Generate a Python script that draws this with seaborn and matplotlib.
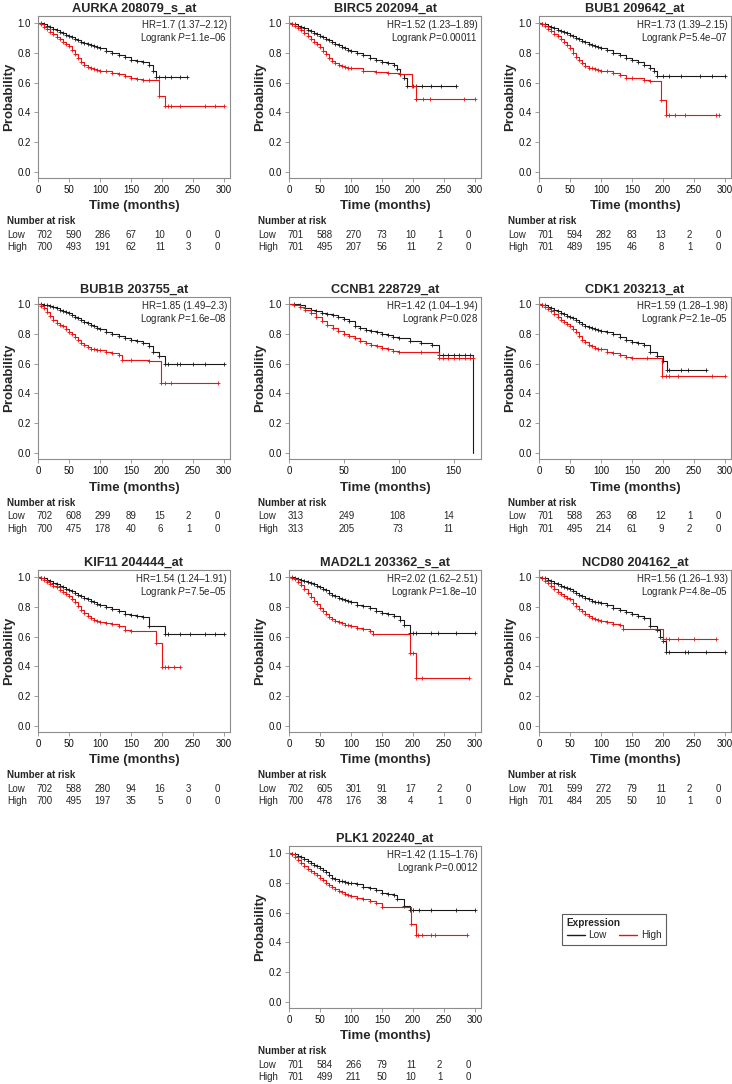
import numpy as np
import matplotlib
matplotlib.use("Agg")
import matplotlib.pyplot as plt
import seaborn as sns
from matplotlib.lines import Line2D

# -----------------------------
# Data
# -----------------------------
titles = ["AURKA 208079_s_at", "BIRC5 202094_at", "BUB1 209642_at",
          "BUB1B 203755_at", "CCNB1 228729_at", "CDK1 203213_at",
          "KIF11 204444_at", "MAD2L1 203362_s_at", "NCD80 204162_at",
          "PLK1 202240_at"]
hr_labels = ["HR=1.7 (1.37–2.12)", "HR=1.52 (1.23–1.89)", "HR=1.73 (1.39–2.15)",
             "HR=1.85 (1.49–2.3)", "HR=1.42 (1.04–1.94)", "HR=1.59 (1.28–1.98)",
             "HR=1.54 (1.24–1.91)", "HR=2.02 (1.62–2.51)", "HR=1.56 (1.26–1.93)",
             "HR=1.42 (1.15–1.76)"]
p_labels = ["1.1e–06", "0.00011", "5.4e–07", "1.6e–08", "0.028", "2.1e–05",
            "7.5e–05", "1.8e–10", "4.8e–05", "0.0012"]

risk_times_long = [0, 50, 100, 150, 200, 250, 300]
risk_times_short = [0, 50, 100, 150]

# months where the early part of every curve was read
early_t = [0, 5, 10, 15, 20, 25, 30, 35, 40, 45, 50, 55, 60, 65, 70, 75, 80, 85, 90, 95, 100]

# AURKA
aurka_low_t = early_t + [110, 120, 130, 140, 150, 160, 170, 180, 185, 190, 240]
aurka_low_s = [1, .997, .99, .98, .97, .96, .95, .94, .93, .922, .915, .905, .895, .885, .875, .867, .86, .852, .845, .838, .83,
               .815, .80, .785, .77, .755, .745, .74, .72, .68, .64, .64]
aurka_low_cens = [195, 205, 215, 230, 240]
aurka_high_t = early_t + [110, 120, 130, 140, 150, 160, 170, 180, 195, 205, 300]
aurka_high_s = [1, .99, .975, .96, .94, .925, .905, .89, .875, .86, .845, .82, .79, .765, .74, .72, .705, .695, .69, .685, .68,
                .675, .665, .655, .645, .63, .625, .62, .615, .51, .445, .445]
aurka_high_cens = [210, 215, 230, 270, 285, 300]
aurka_risk_low = [702, 590, 286, 67, 10, 0, 0]
aurka_risk_high = [700, 493, 191, 62, 11, 3, 0]

# BIRC5
birc5_low_t = early_t + [110, 120, 130, 140, 150, 160, 170, 175, 180, 185, 190, 270]
birc5_low_s = [1, .996, .99, .983, .975, .965, .955, .945, .935, .925, .915, .905, .895, .883, .87, .86, .85, .84, .83, .822, .815,
               .80, .785, .765, .75, .74, .73, .72, .69, .66, .63, .58, .58]
birc5_low_cens = [200, 205, 215, 230, 245, 270]
birc5_high_t = early_t + [120, 140, 160, 180, 198, 205, 300]
birc5_high_s = [1, .99, .98, .965, .95, .93, .91, .893, .875, .86, .84, .815, .79, .765, .745, .73, .72, .71, .705, .70, .695,
                .68, .67, .665, .66, .58, .49, .49]
birc5_high_cens = [205, 216, 227, 283, 300]
birc5_risk_low = [701, 588, 270, 73, 10, 1, 0]
birc5_risk_high = [701, 495, 207, 56, 11, 2, 0]

# BUB1
bub1_low_t = early_t + [110, 120, 130, 140, 150, 160, 170, 180, 185, 190, 300]
bub1_low_s = [1, .996, .99, .983, .975, .965, .955, .948, .94, .93, .92, .91, .9, .89, .88, .87, .86, .852, .845, .838, .83,
              .82, .80, .785, .765, .75, .735, .72, .70, .68, .645, .645]
bub1_low_cens = [200, 210, 230, 260, 280, 300]
bub1_high_t = early_t + [110, 120, 130, 140, 150, 170, 180, 197, 205, 290]
bub1_high_s = [1, .99, .98, .962, .945, .928, .91, .89, .87, .85, .83, .80, .775, .75, .73, .713, .70, .695, .69, .685, .68,
               .675, .665, .65, .63, .63, .62, .61, .485, .385, .385]
bub1_high_cens = [210, 220, 235, 285, 290]
bub1_risk_low = [701, 594, 282, 83, 13, 2, 0]
bub1_risk_high = [701, 489, 195, 46, 8, 1, 0]

# BUB1B
bub1b_low_t = early_t + [110, 120, 130, 140, 150, 160, 170, 180, 185, 195, 205, 300]
bub1b_low_s = [1, .998, .995, .99, .985, .978, .97, .963, .955, .948, .94, .928, .915, .903, .89, .88, .87, .86, .85, .84, .83,
               .815, .8, .785, .77, .76, .75, .74, .72, .68, .65, .595, .595]
bub1b_low_cens = [210, 225, 230, 250, 270, 300]
bub1b_high_t = early_t + [110, 120, 130, 135, 150, 180, 198, 290]
bub1b_high_s = [1, .985, .97, .945, .92, .895, .875, .862, .85, .832, .815, .798, .78, .76, .74, .725, .71, .70, .695, .692, .69,
                .68, .67, .655, .625, .625, .62, .47, .47]
bub1b_high_cens = [205, 215, 290]
bub1b_risk_low = [702, 608, 299, 89, 15, 2, 0]
bub1b_risk_high = [700, 475, 178, 40, 6, 1, 0]

# CCNB1
ccnb1_low_t = early_t + [110, 120, 130, 137, 168]
ccnb1_low_s = [1, .997, .99, .975, .96, .95, .94, .932, .925, .912, .9, .885, .855, .84, .825, .818, .81, .80, .79, .78, .77,
               .755, .74, .725, .66, 0.0]
ccnb1_low_cens = [140, 145, 150, 155, 160, 165]
ccnb1_high_t = early_t + [120, 137, 168]
ccnb1_high_s = [1, .992, .98, .96, .94, .912, .885, .862, .84, .82, .80, .785, .77, .755, .74, .728, .715, .705, .695, .687, .68,
                .675, .635, .635]
ccnb1_high_cens = [140, 145, 150, 155, 160, 165, 168]
ccnb1_risk_low = [313, 249, 108, 14]
ccnb1_risk_high = [313, 205, 73, 11]

# CDK1
cdk1_low_t = early_t + [110, 120, 130, 140, 150, 160, 170, 180, 190, 200, 207, 270]
cdk1_low_s = [1, .996, .99, .98, .97, .96, .95, .94, .93, .922, .915, .905, .895, .88, .865, .855, .845, .837, .83, .825, .82,
              .81, .8, .78, .76, .745, .735, .725, .68, .65, .62, .555, .555]
cdk1_low_cens = [210, 230, 240, 270]
cdk1_high_t = early_t + [110, 120, 130, 140, 150, 175, 198, 300]
cdk1_high_s = [1, .99, .98, .965, .95, .93, .91, .895, .88, .865, .85, .83, .81, .785, .76, .742, .725, .715, .705, .70, .695,
               .68, .67, .655, .645, .64, .635, .515, .515]
cdk1_high_cens = [205, 210, 225, 280, 300]
cdk1_risk_low = [701, 588, 263, 68, 12, 1, 0]
cdk1_risk_high = [701, 495, 214, 61, 9, 2, 0]

# KIF11
kif11_low_t = early_t + [110, 120, 130, 140, 150, 160, 170, 180, 205, 300]
kif11_low_s = [1, .996, .99, .98, .97, .96, .95, .94, .93, .922, .915, .905, .895, .882, .87, .86, .85, .84, .83, .822, .815,
               .8, .785, .77, .755, .745, .735, .73, .67, .615, .615]
kif11_low_cens = [210, 230, 245, 270, 285, 300]
kif11_high_t = early_t + [110, 120, 130, 140, 150, 190, 200, 230]
kif11_high_s = [1, .99, .98, .968, .955, .942, .93, .915, .9, .885, .87, .85, .83, .805, .78, .757, .735, .722, .71, .702, .695,
                .69, .685, .67, .645, .64, .56, .395, .395]
kif11_high_cens = [205, 210, 220, 230]
kif11_risk_low = [702, 588, 280, 94, 16, 3, 0]
kif11_risk_high = [700, 495, 197, 35, 5, 0, 0]

# MAD2L1
mad2l1_low_t = early_t + [110, 120, 130, 140, 150, 160, 170, 180, 185, 195, 300]
mad2l1_low_s = [1, .998, .995, .988, .98, .972, .965, .958, .95, .942, .935, .922, .91, .895, .88, .87, .86, .852, .845, .838, .83,
                .815, .805, .79, .775, .76, .75, .74, .71, .68, .625, .625]
mad2l1_low_cens = [200, 205, 230, 240, 270, 300]
mad2l1_high_t = early_t + [110, 120, 130, 135, 195, 205, 290]
mad2l1_high_s = [1, .995, .985, .965, .945, .918, .89, .865, .84, .818, .795, .772, .75, .732, .715, .705, .695, .688, .68, .675, .67,
                 .66, .65, .64, .615, .49, .325, .325]
mad2l1_high_cens = [200, 215, 290]
mad2l1_risk_low = [702, 605, 301, 91, 17, 2, 0]
mad2l1_risk_high = [700, 478, 176, 38, 4, 1, 0]

# NCD80
ncd80_low_t = early_t + [110, 120, 130, 140, 150, 160, 170, 180, 190, 195, 200, 205, 300]
ncd80_low_s = [1, .996, .99, .98, .97, .96, .95, .942, .935, .928, .92, .908, .895, .882, .87, .86, .85, .842, .835, .83, .825,
               .81, .795, .78, .765, .755, .74, .725, .67, .645, .6, .57, .5, .5]
ncd80_low_cens = [210, 235, 240, 270, 300]
ncd80_high_t = early_t + [110, 120, 130, 135, 200, 285]
ncd80_high_s = [1, .99, .975, .958, .94, .92, .9, .888, .875, .862, .85, .828, .805, .788, .77, .752, .735, .725, .715, .71, .705,
                .695, .685, .675, .65, .585, .585]
ncd80_high_cens = [205, 210, 225, 250, 285]
ncd80_risk_low = [701, 599, 272, 79, 11, 2, 0]
ncd80_risk_high = [701, 484, 205, 50, 10, 1, 0]

# PLK1
plk1_low_t = early_t + [110, 120, 130, 140, 150, 160, 170, 175, 185, 195, 300]
plk1_low_s = [1, .996, .99, .98, .97, .958, .945, .932, .92, .91, .9, .885, .87, .852, .835, .825, .815, .81, .805, .802, .8,
              .79, .775, .765, .75, .73, .725, .72, .69, .645, .615, .615]
plk1_low_cens = [200, 210, 230, 270, 300]
plk1_high_t = early_t + [110, 120, 130, 140, 150, 197, 205, 287]
plk1_high_s = [1, .99, .975, .955, .935, .915, .895, .88, .865, .85, .835, .818, .8, .785, .77, .757, .745, .735, .725, .717, .71,
               .7, .69, .68, .665, .64, .525, .45, .45]
plk1_high_cens = [208, 215, 230, 235, 287]
plk1_risk_low = [701, 584, 266, 79, 11, 2, 0]
plk1_risk_high = [701, 499, 211, 50, 10, 1, 0]

panels = [
    (aurka_low_t, aurka_low_s, aurka_low_cens, aurka_high_t, aurka_high_s, aurka_high_cens, aurka_risk_low, aurka_risk_high),
    (birc5_low_t, birc5_low_s, birc5_low_cens, birc5_high_t, birc5_high_s, birc5_high_cens, birc5_risk_low, birc5_risk_high),
    (bub1_low_t, bub1_low_s, bub1_low_cens, bub1_high_t, bub1_high_s, bub1_high_cens, bub1_risk_low, bub1_risk_high),
    (bub1b_low_t, bub1b_low_s, bub1b_low_cens, bub1b_high_t, bub1b_high_s, bub1b_high_cens, bub1b_risk_low, bub1b_risk_high),
    (ccnb1_low_t, ccnb1_low_s, ccnb1_low_cens, ccnb1_high_t, ccnb1_high_s, ccnb1_high_cens, ccnb1_risk_low, ccnb1_risk_high),
    (cdk1_low_t, cdk1_low_s, cdk1_low_cens, cdk1_high_t, cdk1_high_s, cdk1_high_cens, cdk1_risk_low, cdk1_risk_high),
    (kif11_low_t, kif11_low_s, kif11_low_cens, kif11_high_t, kif11_high_s, kif11_high_cens, kif11_risk_low, kif11_risk_high),
    (mad2l1_low_t, mad2l1_low_s, mad2l1_low_cens, mad2l1_high_t, mad2l1_high_s, mad2l1_high_cens, mad2l1_risk_low, mad2l1_risk_high),
    (ncd80_low_t, ncd80_low_s, ncd80_low_cens, ncd80_high_t, ncd80_high_s, ncd80_high_cens, ncd80_risk_low, ncd80_risk_high),
    (plk1_low_t, plk1_low_s, plk1_low_cens, plk1_high_t, plk1_high_s, plk1_high_cens, plk1_risk_low, plk1_risk_high),
]

# -----------------------------
# Style
# -----------------------------
sns.set_style("white")
plt.rcParams['font.family'] = ['Liberation Sans', 'DejaVu Sans']
plt.rcParams['mathtext.fontset'] = 'custom'
plt.rcParams['mathtext.rm'] = 'Liberation Sans'
plt.rcParams['mathtext.it'] = 'Liberation Sans:italic'

LOW_COLOR = "#1a1a1a"
HIGH_COLOR = "#ee1111"
SPINE = "#8c8c8c"

W, H = 732, 1084
fig = plt.figure(figsize=(W / 100, H / 100), dpi=100)

col_left = [38, 289, 539]
row_top = [16, 297, 570, 846]
box_w, box_h = 192, 162
slots = [(0, 0), (0, 1), (0, 2), (1, 0), (1, 1), (1, 2), (2, 0), (2, 1), (2, 2), (3, 1)]


def draw_curve(ax, t, s, cens, color):
    sns.lineplot(x=t, y=s, ax=ax, color=color, lw=0.8, drawstyle="steps-post",
                 estimator=None, sort=False)
    t_arr = np.asarray(t, dtype=float)
    s_arr = np.asarray(s, dtype=float)
    mark_t = list(t_arr[1:-1]) + list(cens)
    mark_s = [s_arr[np.searchsorted(t_arr, m, side="right") - 1] for m in mark_t]
    ax.plot(mark_t, mark_s, ls="none", marker="+", ms=3.0, mew=0.6, color=color)


for i, (lt, ls_, lc, ht, hs, hc, rl, rh) in enumerate(panels):
    r, c = slots[i]
    x0, y0 = col_left[c], row_top[r]
    ax = fig.add_axes([x0 / W, 1 - (y0 + box_h) / H, box_w / W, box_h / H])

    short = (i == 4)
    xmax = 175 if short else 310
    rtimes = risk_times_short if short else risk_times_long

    draw_curve(ax, lt, ls_, lc, LOW_COLOR)
    draw_curve(ax, ht, hs, hc, HIGH_COLOR)

    ax.set_xlim(0, xmax)
    ax.set_ylim(-6 / 149, 1 + 7 / 149)
    ax.set_xticks(rtimes)
    ax.set_yticks([0, 0.2, 0.4, 0.6, 0.8, 1.0])
    ax.set_yticklabels(["0.0", "0.2", "0.4", "0.6", "0.8", "1.0"])
    for sp in ax.spines.values():
        sp.set_color(SPINE)
        sp.set_linewidth(0.8)
    ax.tick_params(bottom=True, left=True, length=3, width=0.6, color=SPINE,
                   labelsize=7, pad=2, labelcolor="#111111")

    ax.set_xlabel("")
    ax.set_ylabel("")
    ax.text(0.5, 1 + 4 / box_h, titles[i], transform=ax.transAxes, ha="center",
            va="baseline", fontsize=9.2, fontweight="bold")
    ax.text(-29 / box_w, 0.5, "Probability", transform=ax.transAxes, ha="center",
            va="center", rotation=90, fontsize=9.5, fontweight="bold")
    ax.text(0.5, -28.5 / box_h, "Time (months)", transform=ax.transAxes, ha="center",
            va="center", fontsize=9.5, fontweight="bold")

    ax.text(1 - 3 / box_w, 1 - 9 / box_h, hr_labels[i], transform=ax.transAxes,
            ha="right", va="center", fontsize=7)
    ax.text(1 - 3 / box_w, 1 - 22 / box_h, "Logrank $\\mathit{P}$=" + p_labels[i],
            transform=ax.transAxes, ha="right", va="center", fontsize=7)

    # number at risk table
    lx = -31 / box_w
    ax.text(lx, 1 - 205.5 / box_h, "Number at risk", transform=ax.transAxes,
            ha="left", va="center", fontsize=7, fontweight="bold")
    ax.text(lx, 1 - 219 / box_h, "Low", transform=ax.transAxes,
            ha="left", va="center", fontsize=7)
    ax.text(lx, 1 - 231.5 / box_h, "High", transform=ax.transAxes,
            ha="left", va="center", fontsize=7)
    for tt, nl, nh in zip(rtimes, rl, rh):
        fx = 0.035 + 0.93 * tt / xmax
        ax.text(fx, 1 - 219 / box_h, str(nl), transform=ax.transAxes,
                ha="center", va="center", fontsize=7)
        ax.text(fx, 1 - 231.5 / box_h, str(nh), transform=ax.transAxes,
                ha="center", va="center", fontsize=7)

handles = [Line2D([], [], color=LOW_COLOR, lw=1.0), Line2D([], [], color=HIGH_COLOR, lw=1.0)]
leg = fig.legend(handles, ["Low", "High"], title="Expression", ncol=2,
                 loc="center", bbox_to_anchor=(614 / W, 1 - 929.5 / H),
                 fontsize=7.2, title_fontsize=7.2, frameon=True, fancybox=False,
                 edgecolor="#333333", handlelength=1.8, handletextpad=0.4,
                 columnspacing=1.2, borderpad=0.45, labelspacing=0.2)
leg.get_title().set_fontweight("bold")
leg._legend_box.align = "left"
leg.get_frame().set_linewidth(0.8)

fig.savefig("out.png", dpi=100)
